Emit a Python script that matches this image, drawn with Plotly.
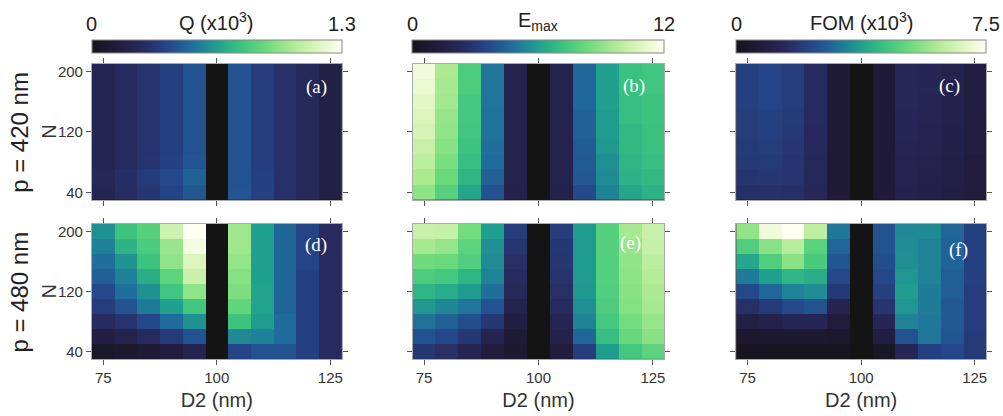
import plotly.graph_objects as go

# ---------------- data ----------------
D2 = [75, 80, 85, 90, 95, 100, 105, 110, 115, 120, 125]
N = [40, 60, 80, 100, 120, 140, 160, 180, 200]
x_ticks = [75, 100, 125]
y_ticks = [40, 120, 200]

# rows listed from N=40 (bottom) to N=200 (top); None = not computed (D2 = 100 nm)
Q_420 = [
    [0.22, 0.27, 0.32, 0.38, 0.45, None, 0.44, 0.37, 0.29, 0.25, 0.17],
    [0.23, 0.28, 0.34, 0.40, 0.48, None, 0.43, 0.36, 0.29, 0.25, 0.17],
    [0.22, 0.26, 0.31, 0.37, 0.44, None, 0.43, 0.35, 0.29, 0.25, 0.17],
    [0.22, 0.26, 0.30, 0.36, 0.43, None, 0.43, 0.35, 0.29, 0.25, 0.17],
    [0.22, 0.26, 0.30, 0.36, 0.43, None, 0.43, 0.35, 0.29, 0.25, 0.17],
    [0.22, 0.26, 0.30, 0.36, 0.43, None, 0.43, 0.35, 0.29, 0.25, 0.17],
    [0.22, 0.26, 0.30, 0.36, 0.43, None, 0.43, 0.35, 0.29, 0.25, 0.17],
    [0.22, 0.26, 0.30, 0.36, 0.43, None, 0.43, 0.35, 0.29, 0.25, 0.17],
    [0.22, 0.26, 0.30, 0.36, 0.43, None, 0.43, 0.35, 0.29, 0.25, 0.17],
]
Q_480 = [
    [0.05, 0.08, 0.10, 0.14, 0.21, None, 0.38, 0.43, 0.43, 0.36, 0.26],
    [0.16, 0.20, 0.26, 0.34, 0.43, None, 0.59, 0.57, 0.51, 0.36, 0.26],
    [0.26, 0.30, 0.39, 0.51, 0.61, None, 0.78, 0.64, 0.51, 0.36, 0.26],
    [0.35, 0.43, 0.55, 0.65, 0.79, None, 0.88, 0.66, 0.49, 0.36, 0.26],
    [0.40, 0.52, 0.61, 0.79, 0.98, None, 0.94, 0.66, 0.49, 0.36, 0.26],
    [0.47, 0.57, 0.70, 0.87, 1.12, None, 0.96, 0.65, 0.49, 0.36, 0.26],
    [0.52, 0.62, 0.78, 0.98, 1.17, None, 0.99, 0.65, 0.49, 0.38, 0.26],
    [0.57, 0.72, 0.82, 1.00, 1.26, None, 1.01, 0.65, 0.49, 0.38, 0.26],
    [0.61, 0.78, 0.85, 1.13, 1.30, None, 1.01, 0.65, 0.49, 0.38, 0.26],
]
Emax_420 = [
    [9.0, 7.8, 6.2, 4.0, 1.7, None, 1.7, 3.7, 5.3, 6.2, 6.6],
    [9.6, 8.3, 6.7, 4.4, 1.8, None, 1.8, 4.1, 5.5, 6.6, 6.8],
    [10.0, 8.6, 7.0, 4.7, 1.8, None, 1.8, 4.2, 5.6, 6.7, 7.0],
    [10.3, 8.9, 7.2, 4.8, 1.8, None, 1.8, 4.3, 5.8, 6.8, 7.1],
    [10.6, 9.1, 7.3, 4.9, 1.8, None, 1.8, 4.4, 5.9, 6.8, 7.1],
    [10.8, 9.2, 7.4, 4.9, 1.8, None, 1.8, 4.4, 5.9, 7.0, 7.2],
    [11.0, 9.4, 7.4, 5.0, 1.8, None, 1.8, 4.6, 6.0, 7.0, 7.2],
    [11.3, 9.5, 7.6, 5.0, 1.8, None, 1.8, 4.6, 6.0, 7.1, 7.3],
    [11.5, 9.6, 7.6, 5.0, 1.8, None, 1.8, 4.6, 6.0, 7.1, 7.3],
]
Emax_480 = [
    [3.0, 2.6, 2.0, 1.2, 0.8, None, 1.2, 3.2, 5.9, 7.4, 8.0],
    [4.0, 3.6, 3.0, 1.9, 1.1, None, 1.7, 4.6, 7.0, 8.2, 8.9],
    [4.9, 4.4, 3.8, 3.0, 1.4, None, 2.0, 5.3, 7.4, 8.5, 9.2],
    [5.8, 5.4, 5.0, 4.0, 1.8, None, 2.4, 5.6, 7.6, 8.8, 9.5],
    [6.7, 6.4, 5.9, 4.8, 2.2, None, 2.6, 5.8, 7.7, 8.9, 9.6],
    [7.6, 7.4, 6.7, 5.3, 2.4, None, 2.8, 5.9, 7.8, 9.0, 9.8],
    [8.4, 8.3, 7.7, 5.5, 2.6, None, 2.9, 5.9, 7.8, 9.1, 10.0],
    [9.5, 9.2, 8.0, 5.6, 2.9, None, 3.0, 5.9, 7.8, 9.2, 10.2],
    [10.3, 10.2, 8.5, 6.0, 3.2, None, 3.2, 5.9, 7.8, 9.5, 10.3],
]
FOM_420 = [
    [1.65, 1.70, 1.65, 1.35, 0.65, None, 0.65, 1.10, 1.05, 0.90, 0.75],
    [1.80, 1.85, 1.75, 1.40, 0.68, None, 0.68, 1.20, 1.10, 0.95, 0.80],
    [1.90, 1.95, 1.80, 1.40, 0.68, None, 0.68, 1.20, 1.15, 1.00, 0.80],
    [1.95, 2.00, 1.85, 1.45, 0.68, None, 0.68, 1.25, 1.20, 1.05, 0.85],
    [2.00, 2.10, 1.90, 1.45, 0.68, None, 0.68, 1.30, 1.20, 1.05, 0.85],
    [2.00, 2.10, 1.95, 1.50, 0.68, None, 0.68, 1.30, 1.25, 1.10, 0.85],
    [2.10, 2.20, 2.00, 1.50, 0.68, None, 0.68, 1.35, 1.25, 1.10, 0.90],
    [2.10, 2.20, 2.00, 1.50, 0.68, None, 0.68, 1.35, 1.30, 1.15, 0.90],
    [2.10, 2.20, 2.00, 1.50, 0.68, None, 0.68, 1.35, 1.30, 1.15, 0.90],
]
FOM_480 = [
    [0.15, 0.15, 0.15, 0.15, 0.15, None, 0.20, 1.30, 2.10, 2.25, 1.95],
    [0.45, 0.50, 0.50, 0.50, 0.40, None, 0.90, 2.50, 3.10, 2.55, 1.95],
    [1.00, 1.10, 1.30, 1.30, 0.75, None, 1.30, 3.30, 3.15, 2.60, 2.00],
    [1.65, 1.95, 2.30, 2.50, 1.20, None, 1.80, 3.60, 3.20, 2.60, 2.00],
    [2.30, 2.85, 3.30, 3.45, 1.90, None, 2.10, 3.70, 3.20, 2.70, 2.00],
    [3.20, 3.75, 4.20, 4.05, 2.30, None, 2.25, 3.60, 3.30, 2.70, 2.10],
    [3.90, 4.80, 5.60, 4.70, 2.55, None, 2.40, 3.50, 3.30, 2.80, 2.10],
    [4.80, 5.60, 6.20, 4.95, 2.85, None, 2.50, 3.45, 3.30, 2.80, 2.10],
    [5.70, 7.20, 7.50, 6.30, 3.15, None, 2.50, 3.40, 3.40, 2.85, 2.10],
]

cbar_titles = ["Q (x10<sup>3</sup>)", "E<sub>max</sub>", "FOM (x10<sup>3</sup>)"]
cbar_max = [1.3, 12, 7.5]
cbar_max_labels = ["1.3", "12", "7.5"]
row_labels = ["p = 420 nm", "p = 480 nm"]
panel_labels = ["(a)", "(b)", "(c)", "(d)", "(e)", "(f)"]
panels = [Q_420, Emax_420, FOM_420, Q_480, Emax_480, FOM_480]

# ---------------- style / layout ----------------
W, H = 1003, 416
def px(xp):
    return xp / W
def py(yp):
    return 1 - yp / H

col_px = [(92, 342), (413, 665), (737, 987)]
row_px = [(63, 200), (224, 360)]
label_px = [(317, 86), (635, 85), (950, 85), (316, 245), (631, 243), (959, 250)]

colorscale = [
    [0.0, "#16141c"], [0.1, "#211b3c"], [0.2, "#272a5e"], [0.3, "#24468a"],
    [0.4, "#1f6e9c"], [0.5, "#20a08e"], [0.6, "#3cc47f"], [0.7, "#6edb7c"],
    [0.8, "#acea92"], [0.9, "#dcf5bc"], [1.0, "#fffff2"],
]

FONT = "Liberation Sans, Arial, sans-serif"

def ann(text, xp, yp, size, color="#222", family=None, angle=0):
    f = dict(size=size, color=color)
    if family:
        f["family"] = family
    return dict(text=text, x=px(xp), y=py(yp), xref="paper", yref="paper",
                xanchor="center", yanchor="middle", showarrow=False,
                textangle=angle, font=f)

fig = go.Figure()
layout = dict(
    width=W, height=H, margin=dict(l=0, r=0, t=0, b=0),
    paper_bgcolor="white", plot_bgcolor="#141414",
    font=dict(family=FONT, color="#333333"),
    showlegend=False, annotations=[],
)

for c in range(3):
    ca = "coloraxis" if c == 0 else f"coloraxis{c+1}"
    x0, x1 = col_px[c]
    layout[ca] = dict(
        colorscale=colorscale, cmin=0, cmax=cbar_max[c],
        colorbar=dict(
            orientation="h", lenmode="pixels", len=x1 - x0, thickness=13,
            x=px((x0 + x1) / 2), xanchor="center", y=py(53), yanchor="bottom",
            xpad=0, ypad=0, outlinewidth=1, outlinecolor="#888888",
            showticklabels=False, ticks="",
        ),
    )
    layout["annotations"] += [
        ann("0", x0, 23, 20),
        ann(cbar_max_labels[c], x1, 23, 20),
        ann(cbar_titles[c], (x0 + x1) / 2, 21, 20),
    ]

for i, z in enumerate(panels):
    r, c = divmod(i, 3)
    k = i + 1
    xa = "x" if k == 1 else f"x{k}"
    ya = "y" if k == 1 else f"y{k}"
    ca = "coloraxis" if c == 0 else f"coloraxis{c+1}"
    fig.add_trace(go.Heatmap(x=D2, y=N, z=z, coloraxis=ca, xaxis=xa, yaxis=ya,
                             hoverongaps=False))
    x0, x1 = col_px[c]
    y0, y1 = row_px[r]
    common = dict(showline=True, linecolor="#aaaaaa", linewidth=1, mirror="ticks",
                  ticks="outside", ticklen=5, tickcolor="#555555", showgrid=False,
                  zeroline=False, tickfont=dict(size=15, color="#333"))
    xax = dict(common, domain=[px(x0), px(x1)], anchor=ya, range=[72.5, 127.5],
               tickvals=x_ticks, showticklabels=(r == 1))
    if r == 1:
        xax["title"] = dict(text="D2 (nm)", font=dict(size=20, color="#333"), standoff=7)
    yax = dict(common, domain=[py(y1), py(y0)], anchor=xa, range=[30, 210],
               tickvals=y_ticks, showticklabels=(c == 0))
    layout["xaxis" if k == 1 else f"xaxis{k}"] = xax
    layout["yaxis" if k == 1 else f"yaxis{k}"] = yax
    lx, ly = label_px[i]
    layout["annotations"].append(ann(panel_labels[i], lx, ly, 19, color="white",
                                     family="Liberation Serif, Times New Roman, serif"))

for r in range(2):
    y0, y1 = row_px[r]
    layout["annotations"].append(ann(row_labels[r], 20, (y0 + y1) / 2, 24, angle=-90))
    layout["annotations"].append(ann("N", 49, (y0 + y1) / 2, 20, color="#333", angle=-90))

fig.update_layout(**layout)
fig.write_html("out.html")
